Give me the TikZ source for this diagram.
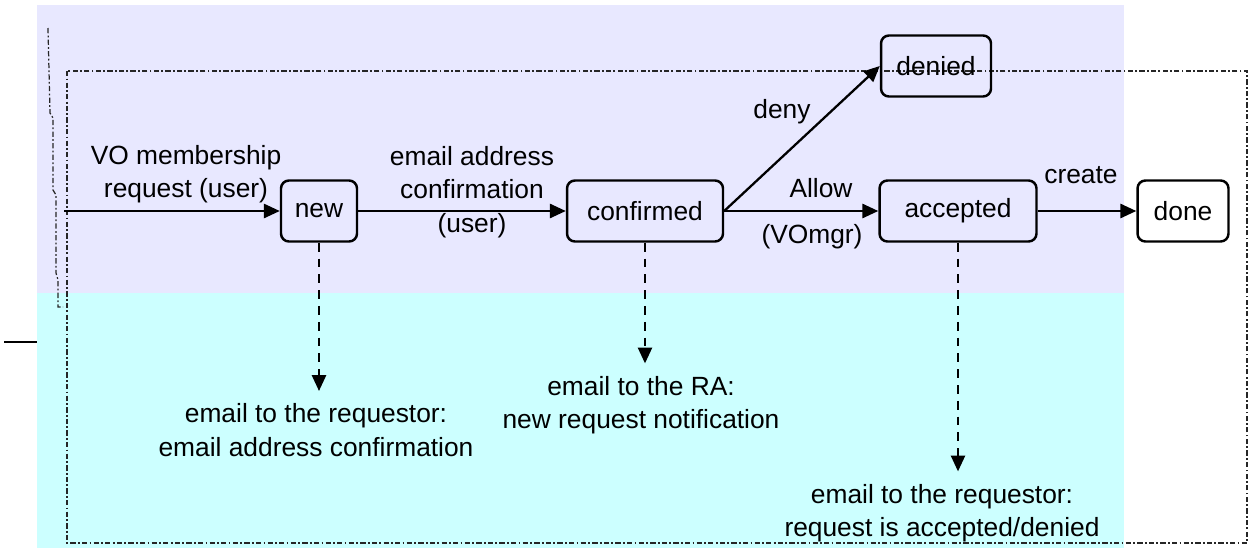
\documentclass[tikz,border=0pt]{standalone}
\usepackage{fontspec}
\setmainfont{Liberation Sans}
\usetikzlibrary{arrows.meta,positioning}

\definecolor{userband}{RGB}{232,232,255}
\definecolor{mailband}{RGB}{204,255,255}

\begin{document}
\begin{tikzpicture}[
		x=0.02cm, y=-0.02cm,
		state/.style={
			draw,
			rounded corners=4.5pt,
			line width=1.4pt,
			minimum height=1.22cm,
			inner sep=0pt,
		},
		txt/.style={
			align=center,
			inner sep=0pt,
		},
		flow/.style={-{Triangle[length=9pt,width=8pt]}, line width=1.3pt},
		mail/.style={flow, dash pattern=on 5pt off 4pt},
		frame/.style={line width=0.7pt, black!85,
			dash pattern=on 3pt off 1.3pt on 1pt off 1.3pt},
		font=\fontsize{15}{19}\selectfont,
		>=latex
		]
		\useasboundingbox (0,0) rectangle (1251,548);
		% Draw the two background bands
		\fill[userband] (37,5) rectangle (1124,293);
		\fill[mailband] (37,293) rectangle (1124,548);
		% Draw the dotted frames and the short rule
		\draw[frame] (67,71) rectangle (1247,543);
		\draw[frame] (48,28) -- (50,113) -- (53,118) -- (53,190) -- (56,195)
			-- (56,273) -- (58,280) -- (58,307) -- (63,307);
		\draw[line width=1.3pt] (4,342) -- (37,342);
		% Draw the states
		\node [state,minimum width=1.52cm] (new) at (319,211) {new};
		\node [state,minimum width=3.12cm] (confirmed) at (645,211) {confirmed};
		\node [state,minimum width=3.14cm] (accepted) at (958,211) {accepted\hspace{0.36cm}};
		\node [state,minimum width=1.82cm] (done) at (1183,211) {done};
		\node [state,minimum width=2.2cm] (denied) at (936,66) {denied};
		% Draw the transitions and labels
		\coordinate (start) at (64,211);
		\draw[flow] (start) -- (new);
		\node[txt] (request) at (186,174) {VO membership\\request (user)};
		\draw[flow] (new) -- (confirmed);
		\node[txt] (confirm) at (472,192) {email address\\confirmation\\(user)};
		\draw[flow] (confirmed.east) -- (denied.west);
		\node[txt] (deny) at (782,112) {deny};
		\draw[flow] (confirmed) -- (accepted);
		\node[txt] (allow) at (821,188) {Allow};
		\node[txt] (vomgr) at (812,237) {(VOmgr)};
		\draw[flow] (accepted) -- (done);
		\node[txt] (create) at (1081,175) {create};
		% Draw the notification emails
		\foreach \st/\x/\y/\txt in {
			new/316/430/{email to the requestor:\\email address confirmation},
			confirmed/641/405/{email to the RA:\\new request notification},
			accepted/942/513/{email to the requestor:\\request is accepted/denied}} {
			\node[txt] (\st mail) at (\x,\y) {\txt};
			\draw[mail] (\st.south) -- ([yshift=7pt]\st.south |- \st mail.north);
		}
	\end{tikzpicture}
\end{document}
